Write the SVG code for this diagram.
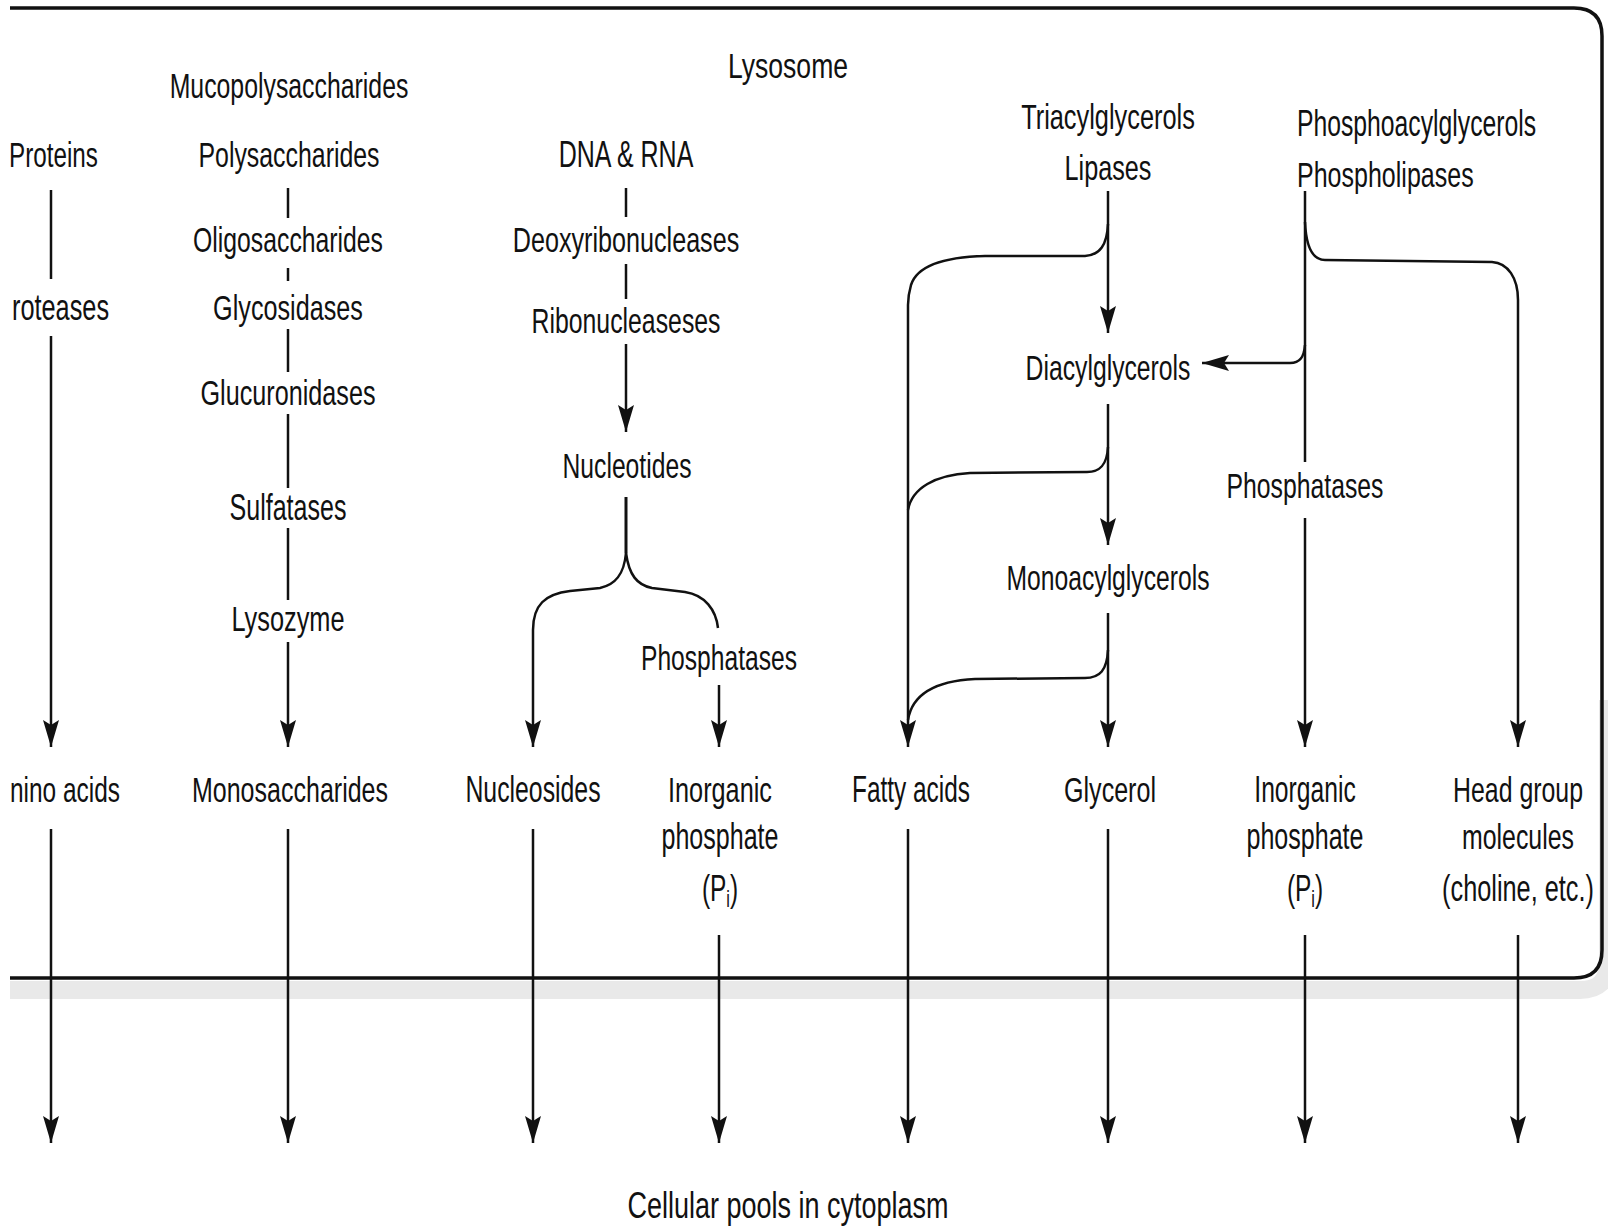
<svg xmlns="http://www.w3.org/2000/svg" width="1608" height="1227" viewBox="0 0 1608 1227">
<style>
text{font-family:"Liberation Sans",Arial,sans-serif;font-size:36px;fill:#111;}
.c{text-anchor:middle;}
.ln{fill:none;stroke:#111;stroke-width:2.5;}
.frame{fill:none;stroke:#111;stroke-width:3.5;}
.shadow{fill:none;stroke:#e9e9e9;stroke-width:18;}
</style>
<defs>
<marker id="ah" viewBox="-28 -9 29 18" refX="0" refY="0" markerWidth="29" markerHeight="18" markerUnits="userSpaceOnUse" orient="auto">
<path d="M0,0 L-27,-8 L-22,0 L-27,8 Z" fill="#111"/>
</marker>
</defs>
<rect width="1608" height="1227" fill="#fff"/>
<g id="lysosome-frame">
<path class="shadow" d="M10,990 L1580,990 Q1608,990 1608,962 L1608,700"/>
<path class="frame" d="M10,8 L1574,8 Q1602,8 1602,36 L1602,950 Q1602,978 1574,978 L10,978"/>
<text class="c" transform="translate(788,78) scale(0.738,1)">Lysosome</text>
</g>
<g id="connectors">
<path class="ln" d="M51,190 V279"/>
<path class="ln" d="M51,336 V747" marker-end="url(#ah)"/>
<path class="ln" d="M51,829 V1143" marker-end="url(#ah)"/>
<path class="ln" d="M288,188 V218"/>
<path class="ln" d="M288,268 V281"/>
<path class="ln" d="M288,329 V372"/>
<path class="ln" d="M288,414 V488"/>
<path class="ln" d="M288,528 V600"/>
<path class="ln" d="M288,642 V747" marker-end="url(#ah)"/>
<path class="ln" d="M288,829 V1143" marker-end="url(#ah)"/>
<path class="ln" d="M626,188 V217"/>
<path class="ln" d="M626,264 V299"/>
<path class="ln" d="M626,344 V432" marker-end="url(#ah)"/>
<path class="ln" d="M626,497 V553" style="stroke-width:3"/>
<path class="ln" d="M626,553 C624,575 615,585 600,588 L570,591 C545,594 533,605 533,630 V747" marker-end="url(#ah)"/>
<path class="ln" d="M626,553 C629,575 637,585 652,588 L685,592 C705,595 716,610 718,628"/>
<path class="ln" d="M719,685 V747" marker-end="url(#ah)"/>
<path class="ln" d="M533,829 V1143" marker-end="url(#ah)"/>
<path class="ln" d="M719,935 V1143" marker-end="url(#ah)"/>
<path class="ln" d="M1108,191 V333" marker-end="url(#ah)"/>
<path class="ln" d="M1108,224 C1107,245 1100,255 1085,256 L985,256 C945,257 917,266 911,285 C909,292 908,298 908,305 V747" marker-end="url(#ah)"/>
<path class="ln" d="M1108,404 V545" marker-end="url(#ah)"/>
<path class="ln" d="M1108,447 C1107,465 1100,472 1087,472 L970,473 C935,475 912,488 908,510"/>
<path class="ln" d="M1108,613 V747" marker-end="url(#ah)"/>
<path class="ln" d="M1108,650 C1107,670 1100,678 1085,678 L975,679 C935,681 912,695 908,720"/>
<path class="ln" d="M908,829 V1143" marker-end="url(#ah)"/>
<path class="ln" d="M1108,829 V1143" marker-end="url(#ah)"/>
<path class="ln" d="M1305,191 V462"/>
<path class="ln" d="M1305,222 C1306,245 1312,260 1325,260 L1492,262 C1508,263 1518,278 1518,300 V747" marker-end="url(#ah)"/>
<path class="ln" d="M1305,345 C1304,357 1300,363 1290,363 L1202,363" marker-end="url(#ah)"/>
<path class="ln" d="M1305,518 V747" marker-end="url(#ah)"/>
<path class="ln" d="M1305,935 V1143" marker-end="url(#ah)"/>
<path class="ln" d="M1518,935 V1143" marker-end="url(#ah)"/>
</g>
<g id="proteins"><text transform="translate(9,167) scale(0.674,1)">Proteins</text></g>
<g id="proteases"><text transform="translate(12,320) scale(0.703,1)">roteases</text></g>
<g id="amino-acids"><text transform="translate(10,802) scale(0.679,1)">nino acids</text></g>
<g id="mucopolysaccharides"><text class="c" transform="translate(289,98) scale(0.69,1)">Mucopolysaccharides</text></g>
<g id="polysaccharides"><text class="c" transform="translate(289,167) scale(0.691,1)">Polysaccharides</text></g>
<g id="oligosaccharides"><text class="c" transform="translate(288,252) scale(0.688,1)">Oligosaccharides</text></g>
<g id="glycosidases"><text class="c" transform="translate(288,320) scale(0.70,1)">Glycosidases</text></g>
<g id="glucuronidases"><text class="c" transform="translate(288,405) scale(0.70,1)">Glucuronidases</text></g>
<g id="sulfatases"><text class="c" transform="translate(288,520) scale(0.696,1)">Sulfatases</text></g>
<g id="lysozyme"><text class="c" transform="translate(288,631) scale(0.704,1)">Lysozyme</text></g>
<g id="monosaccharides"><text class="c" transform="translate(290,802) scale(0.695,1)">Monosaccharides</text></g>
<g id="dna-rna"><text class="c" transform="translate(626,167) scale(0.694,1)">DNA &amp; RNA</text></g>
<g id="deoxyribonucleases"><text class="c" transform="translate(626,252) scale(0.699,1)">Deoxyribonucleases</text></g>
<g id="ribonucleases"><text class="c" transform="translate(626,333) scale(0.69,1)">Ribonucleaseses</text></g>
<g id="nucleotides"><text class="c" transform="translate(627,478) scale(0.686,1)">Nucleotides</text></g>
<g id="phosphatases-1"><text class="c" transform="translate(719,670) scale(0.684,1)">Phosphatases</text></g>
<g id="nucleosides"><text class="c" transform="translate(533,802) scale(0.689,1)">Nucleosides</text></g>
<g id="pi-1">
<text class="c" transform="translate(720,802) scale(0.702,1)">Inorganic</text>
<text class="c" transform="translate(720,849) scale(0.696,1)">phosphate</text>
<text class="c" transform="translate(720,901) scale(0.68,1)">(P<tspan font-size="24" dy="6">i</tspan><tspan dy="-6">)</tspan></text>
</g>
<g id="triacylglycerols">
<text class="c" transform="translate(1108,129) scale(0.704,1)">Triacylglycerols</text>
<text class="c" transform="translate(1108,180) scale(0.701,1)">Lipases</text>
</g>
<g id="diacylglycerols"><text class="c" transform="translate(1108,380) scale(0.6875,1)">Diacylglycerols</text></g>
<g id="monoacylglycerols"><text class="c" transform="translate(1108,590) scale(0.686,1)">Monoacylglycerols</text></g>
<g id="fatty-acids"><text class="c" transform="translate(911,802) scale(0.678,1)">Fatty acids</text></g>
<g id="glycerol"><text class="c" transform="translate(1110,802) scale(0.697,1)">Glycerol</text></g>
<g id="phosphoacylglycerols">
<text transform="translate(1297,136) scale(0.687,1)">Phosphoacylglycerols</text>
<text transform="translate(1297,187) scale(0.695,1)">Phospholipases</text>
</g>
<g id="phosphatases-2"><text class="c" transform="translate(1305,498) scale(0.688,1)">Phosphatases</text></g>
<g id="pi-2">
<text class="c" transform="translate(1305,802) scale(0.685,1)">Inorganic</text>
<text class="c" transform="translate(1305,849) scale(0.696,1)">phosphate</text>
<text class="c" transform="translate(1305,901) scale(0.68,1)">(P<tspan font-size="24" dy="6">i</tspan><tspan dy="-6">)</tspan></text>
</g>
<g id="head-group">
<text class="c" transform="translate(1518,802) scale(0.691,1)">Head group</text>
<text class="c" transform="translate(1518,849) scale(0.691,1)">molecules</text>
<text class="c" transform="translate(1518,901) scale(0.703,1)">(choline, etc.)</text>
</g>
<g id="cellular-pools"><text class="c" transform="translate(788,1218) scale(0.75,1)">Cellular pools in cytoplasm</text></g>
</svg>
